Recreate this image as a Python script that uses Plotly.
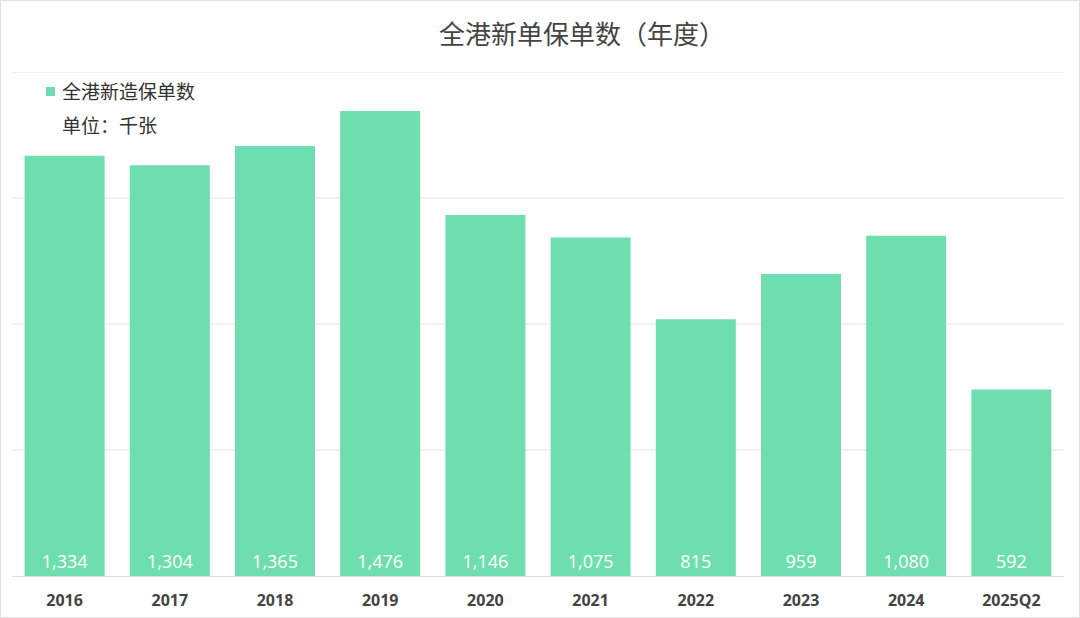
import plotly.graph_objects as go

categories = ["2016", "2017", "2018", "2019", "2020", "2021", "2022", "2023", "2024", "2025Q2"]
values = [1334, 1304, 1365, 1476, 1146, 1075, 815, 959, 1080, 592]
series_name = "全港新造保单数"
unit_label = "单位：千张"
title_text = "全港新单保单数（年度）"
grid_values = [400, 800, 1200, 1600]

W, H = 1080, 618
ml, mr, mt, mb = 12, 16, 72, 42
pw, ph = W - ml - mr, H - mt - mb
bar_color = "#6fdeae"

def px_x(x):
    return (x - ml) / pw

def px_y(y):
    return 1 - (y - mt) / ph

fig = go.Figure()
fig.add_trace(go.Bar(
    x=categories, y=values, name=series_name,
    marker=dict(color=bar_color, line=dict(width=0)),
    text=[f"{v:,}" for v in values],
    textposition="inside", insidetextanchor="start",
    textfont=dict(color="white", size=18, family="Open Sans"),
    textangle=0, cliponaxis=False, showlegend=False,
))

fig.update_layout(
    width=W, height=H,
    margin=dict(l=ml, r=mr, t=mt, b=mb),
    paper_bgcolor="white", plot_bgcolor="white",
    bargap=0.24,
    font=dict(family="Noto Sans CJK SC", color="#404040"),
    title=dict(text=title_text, x=px_x(582), xref="paper", xanchor="center",
               y=1 - 35 / H, yanchor="middle",
               font=dict(size=26, color="#444444", family="Noto Sans CJK SC")),
    showlegend=False,
    xaxis=dict(showgrid=False, showline=False, ticks="", automargin=False,
               tickfont=dict(size=16, color="#444444", family="Open Sans"),
               ticklabelstandoff=13,
               tickprefix="<b>", ticksuffix="</b>"),
    yaxis=dict(range=[0, 1600], showgrid=False, automargin=False,
               showticklabels=False, zeroline=True, zerolinecolor="#dddddd", zerolinewidth=1),
)

# horizontal gridlines
for g in grid_values:
    fig.add_shape(type="line", xref="paper", yref="y", x0=0, x1=1, y0=g, y1=g,
                  line=dict(color="#e4e4e4", width=1), layer="below")

# legend (swatch + label) and unit note
fig.add_shape(type="rect", xref="paper", yref="paper",
              x0=px_x(46), x1=px_x(55), y0=px_y(96), y1=px_y(87),
              fillcolor=bar_color, line=dict(width=0))
fig.add_annotation(text=series_name, xref="paper", yref="paper",
                   x=px_x(60), y=px_y(91), xanchor="left", yanchor="middle",
                   showarrow=False, font=dict(size=19, color="#333333", family="Noto Sans CJK SC"))
fig.add_annotation(text=unit_label, xref="paper", yref="paper",
                   x=px_x(60), y=px_y(125), xanchor="left", yanchor="middle",
                   showarrow=False, font=dict(size=19, color="#333333", family="Noto Sans CJK SC"))

# thin frame around the image
fig.add_shape(type="rect", xref="paper", yref="paper",
              x0=px_x(0.5), x1=px_x(W - 0.5), y0=px_y(H - 0.5), y1=px_y(0.5),
              line=dict(color="#e0e0e0", width=1), layer="below")

fig.write_html("out.html")
